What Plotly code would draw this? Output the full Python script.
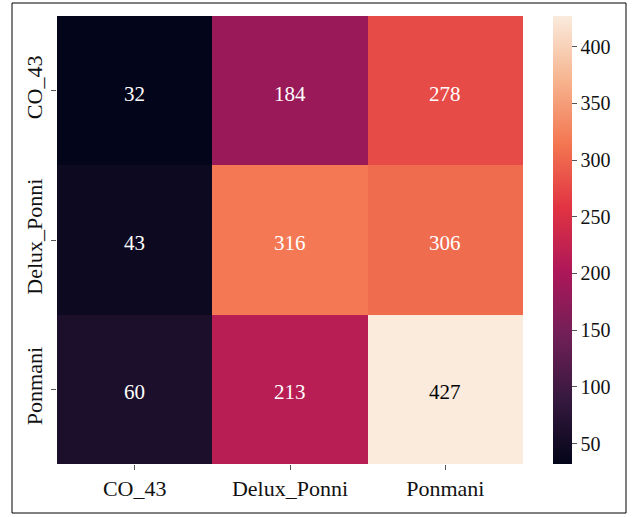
import plotly.graph_objects as go

# Confusion-style count matrix (rows = actual, columns = predicted)
labels = ["CO_43", "Delux_Ponni", "Ponmani"]
row_co43 = [32, 184, 278]
row_delux = [43, 316, 306]
row_ponmani = [60, 213, 427]
counts = [row_co43, row_delux, row_ponmani]

cbar_ticks = [50, 100, 150, 200, 250, 300, 350, 400]

# "rocket" style sequential colormap
rocket_stops = [
    (0.0, (3, 5, 26)),
    (1 / 7, (53, 25, 62)),
    (2 / 7, (112, 31, 87)),
    (3 / 7, (173, 23, 89)),
    (4 / 7, (225, 51, 66)),
    (5 / 7, (243, 118, 81)),
    (6 / 7, (246, 180, 143)),
    (1.0, (250, 235, 221)),
]
colorscale = [[p, "rgb(%d,%d,%d)" % c] for p, c in rocket_stops]

vmin = min(min(r) for r in counts)
vmax = max(max(r) for r in counts)


def color_at(t):
    for (p0, c0), (p1, c1) in zip(rocket_stops[:-1], rocket_stops[1:]):
        if p0 <= t <= p1:
            f = (t - p0) / (p1 - p0) if p1 > p0 else 0
            return tuple(c0[i] + f * (c1[i] - c0[i]) for i in range(3))
    return rocket_stops[-1][1]


def luminance(rgb):
    out = []
    for c in rgb:
        c = c / 255
        out.append(c / 12.92 if c <= 0.03928 else ((c + 0.055) / 1.055) ** 2.4)
    return 0.2126 * out[0] + 0.7152 * out[1] + 0.0722 * out[2]


serif = "Liberation Serif, Times New Roman, serif"

# Figure geometry (pixels)
W, H = 632, 517
ML, MR, MT, MB = 57, 10, 16, 53
plot_w = W - ML - MR
plot_h = H - MT - MB
heat_right = 523
cbar_left = 553

fig = go.Figure(
    go.Heatmap(
        z=counts,
        x=labels,
        y=labels,
        colorscale=colorscale,
        zmin=vmin,
        zmax=vmax,
        colorbar=dict(
            x=(cbar_left - ML) / plot_w,
            xanchor="left",
            xpad=0,
            y=0.5,
            yanchor="middle",
            ypad=0,
            len=1.0,
            lenmode="fraction",
            thickness=19,
            outlinewidth=0,
            tickvals=cbar_ticks,
            ticks="outside",
            ticklen=5,
            tickcolor="#555555",
            tickwidth=1,
            tickfont=dict(family=serif, size=20, color="#111111"),
        ),
        hoverinfo="skip",
    )
)

# Cell value labels, text colour chosen by cell luminance
for i, row in enumerate(counts):
    for j, v in enumerate(row):
        rgb = color_at((v - vmin) / (vmax - vmin))
        col = "black" if luminance(rgb) > 0.408 else "white"
        fig.add_annotation(
            x=labels[j], y=labels[i], text=str(v), showarrow=False,
            font=dict(family=serif, size=21, color=col), yshift=-3,
        )

# Frame around the whole figure
fig.add_shape(
    type="rect", xref="paper", yref="paper",
    x0=(12 - ML) / plot_w, x1=(626 - ML) / plot_w,
    y0=(H - MB - 513) / plot_h, y1=(H - MB - 3) / plot_h,
    line=dict(color="black", width=1), fillcolor="rgba(0,0,0,0)",
)

fig.update_xaxes(
    domain=[0, (heat_right - ML) / plot_w],
    range=[-0.5, 2.5], showgrid=False, zeroline=False, showline=False,
    ticks="outside", ticklen=5, tickcolor="#555555",
    tickfont=dict(family=serif, size=22, color="#111111"),
)
fig.update_yaxes(
    range=[2.5, -0.5], showgrid=False, zeroline=False, showline=False,
    ticks="outside", ticklen=5, tickcolor="#555555", tickangle=-90,
    tickfont=dict(family=serif, size=22, color="#111111"),
)

fig.update_layout(
    width=W, height=H,
    margin=dict(l=ML, r=MR, t=MT, b=MB),
    plot_bgcolor="white", paper_bgcolor="white",
    showlegend=False,
)

fig.write_html("out.html")
